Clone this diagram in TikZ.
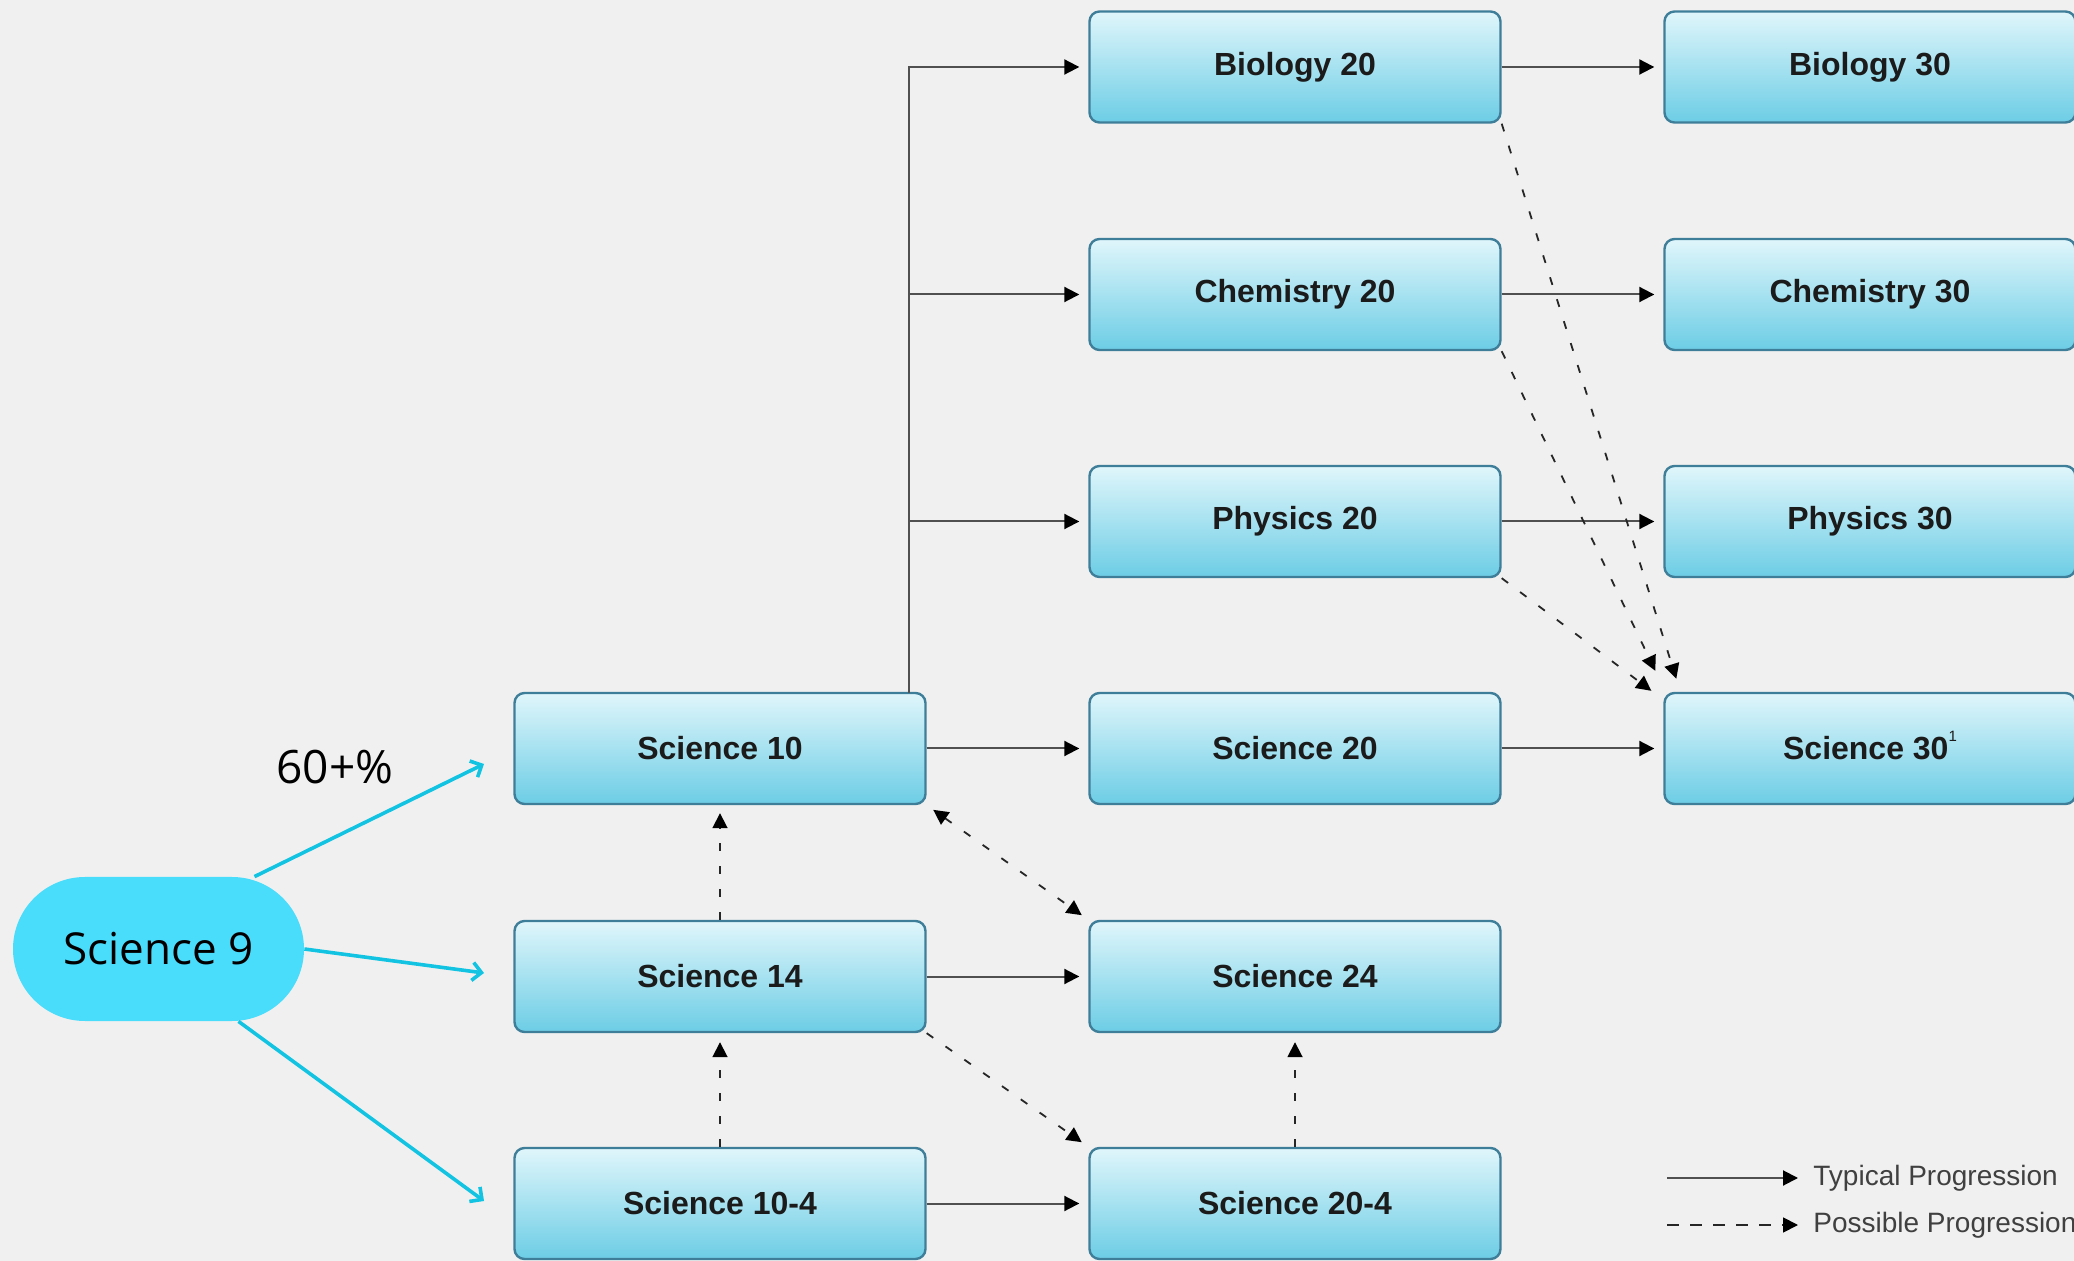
\documentclass[tikz,border=0pt]{standalone}
\usepackage{fontspec}
\setmainfont{Liberation Sans}
\newfontfamily\opensans{Open Sans}
\usetikzlibrary{arrows.meta}
\definecolor{bgc}{HTML}{F0F0F0}
\definecolor{boxtop}{HTML}{E0F6FB}
\definecolor{boxbot}{HTML}{6CCDE5}
\definecolor{boxborder}{HTML}{3F7E99}
\definecolor{txt}{HTML}{1B1B1B}
\definecolor{pill}{HTML}{4ADCFB}
\definecolor{cyanarrow}{HTML}{12C3E2}
\definecolor{linegray}{HTML}{505050}
\begin{document}
\begin{tikzpicture}[x=0.5pt,y=-0.5pt,
  course/.style={draw=boxborder, line width=1.2pt, rounded corners=5pt,
    top color=boxtop, bottom color=boxbot, minimum width=205.5pt,
    minimum height=55.5pt, inner sep=0pt,
    font=\fontsize{16}{19}\selectfont\bfseries, text=txt},
  typ/.style={draw=linegray, line width=1pt, -{Triangle[length=7.5pt,width=7.5pt,fill=black,color=black]}, shorten >=4.5pt},
  possible/.style={draw=black!85, line width=0.9pt, dash pattern=on 4pt off 7.5pt, -{Triangle[length=7.5pt,width=7.5pt,fill=black,color=black]}},
  feed/.style={draw=cyanarrow, line width=1.8pt, -{Straight Barb[length=4.5pt,width=9pt]}},
  legtext/.style={anchor=west, inner sep=0pt, font=\fontsize{14}{16}\selectfont, text=black!75}
]
\fill[bgc] (0,0) rectangle (2074,1261);
\useasboundingbox (0,0) rectangle (2074,1261);

% column 1
\node[course] (sci10) at (720,748.5) {Science 10};
\node[course] (sci14) at (720,976.5) {Science 14};
\node[course] (sci104) at (720,1203.5) {Science 10-4};
% column 2
\node[course] (bio20) at (1295,67) {Biology 20};
\node[course] (chem20) at (1295,294.5) {Chemistry 20};
\node[course] (phys20) at (1295,521.5) {Physics 20};
\node[course] (sci20) at (1295,748.5) {Science 20};
\node[course] (sci24) at (1295,976.5) {Science 24};
\node[course] (sci204) at (1295,1203.5) {Science 20-4};
% column 3
\node[course] (bio30) at (1870,67) {Biology 30};
\node[course] (chem30) at (1870,294.5) {Chemistry 30};
\node[course] (phys30) at (1870,521.5) {Physics 30};
\node[course] (sci30) at (1870,748.5) {Science 30\smash{\raisebox{1.1ex}{\fontsize{7.5}{7.5}\selectfont\mdseries 1}}};

% Science 9
\node[fill=pill, rounded corners=36pt, minimum width=145.5pt, minimum height=72pt,
  inner sep=0pt, font=\opensans\fontsize{22}{25}\selectfont] (sci9) at (158.5,949) {Science 9};
\node[font=\opensans\fontsize{23}{26}\selectfont, inner sep=0pt] (pct) at (335,767) {60+\%};

\coordinate (in1) at (484,764);
\coordinate (in2) at (484,973);
\coordinate (in3) at (484,1201);
\draw[feed] ([shift={(96,0)}]sci9.north) -- (in1);
\draw[feed] (sci9.east) -- (in2);
\draw[feed] ([shift={(80,0)}]sci9.south) -- (in3);

% typical progression
\coordinate (trunk) at (909,693);
\draw[typ] (trunk) |- (bio20);
\draw[typ] (trunk |- chem20) -- (chem20);
\draw[typ] (trunk |- phys20) -- (phys20);
\draw[typ] (sci10) -- (sci20);
\draw[typ] (sci14) -- (sci24);
\draw[typ] (sci104) -- (sci204);
\draw[typ] (bio20) -- (bio30);
\draw[typ] (chem20) -- (chem30);
\draw[typ] (phys20) -- (phys30);
\draw[typ] (sci20) -- (sci30);

% possible progression
\draw[possible, shorten >=4pt] (sci14) -- (sci10);
\draw[possible, shorten >=4.5pt] (sci104) -- (sci14);
\draw[possible, shorten >=4.5pt] (sci204) -- (sci24);
\draw[possible, {Triangle[length=7.5pt,width=7.5pt,fill=black,color=black]}-{Triangle[length=7.5pt,width=7.5pt,fill=black,color=black]}, shorten <=4pt, shorten >=4pt] (sci10.south east) -- (sci24.north west);
\draw[possible, shorten >=4pt] (sci14.south east) -- (sci204.north west);
\draw[possible] (bio20.south east) -- ([shift={(13,-13)}]sci30.north west);
\draw[possible] (chem20.south east) -- ([shift={(-8,-21)}]sci30.north west);
\draw[possible] (phys20.south east) -- ([shift={(-12,-1)}]sci30.north west);

% legend
\node[legtext] (leg1) at (1813,1178) {Typical Progression};
\node[legtext] (leg2) at (1813,1225) {Possible Progression};
\coordinate (ls1) at (1667,1178);
\coordinate (ls2) at (1667,1225);
\draw[typ, shorten >=7.5pt] (ls1) -- (leg1.west);
\draw[possible, dash pattern=on 6pt off 5.5pt, shorten >=7.5pt] (ls2) -- (leg2.west);
\end{tikzpicture}
\end{document}
